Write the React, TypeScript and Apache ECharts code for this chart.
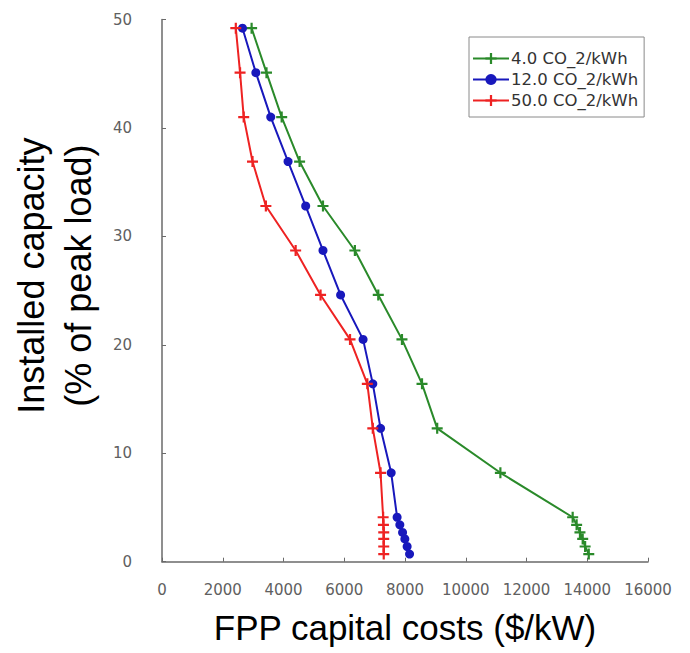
import React, { useEffect, useRef } from "react";
import * as echarts from "echarts";

const capacity = [49.2, 45.1, 41.0, 36.9, 32.8, 28.7, 24.6, 20.5, 16.4, 12.3, 8.2, 4.1, 3.4, 2.7, 2.1, 1.4, 0.7];
const cost4 = [2950, 3440, 3940, 4530, 5300, 6350, 7120, 7900, 8560, 9060, 11140, 13520, 13650, 13760, 13850, 13930, 14050];
const cost12 = [2650, 3090, 3580, 4150, 4730, 5300, 5880, 6620, 6940, 7195, 7545, 7740, 7830, 7920, 7995, 8070, 8150];
const cost50 = [2430, 2570, 2690, 2980, 3420, 4400, 5220, 6190, 6760, 6940, 7195, 7280, 7290, 7300, 7300, 7300, 7300];
const seriesNames = ["4.0 CO_2/kWh", "12.0 CO_2/kWh", "50.0 CO_2/kWh"];
const seriesColors = ["#2a8a2a", "#1818bc", "#ee2222"];
const xTitle = "FPP capital costs ($/kW)";
const yTitle = "Installed capacity\n(% of peak load)";

const PLUS = "path://M4,0H6V4H10V6H6V10H4V6H0V4H4Z";

function pairs(xs: number[]) {
  return xs.map((x, i) => [x, capacity[i]]);
}

export default function App() {
  const ref = useRef<HTMLDivElement>(null);
  useEffect(() => {
    if (!ref.current) return;
    const chart = echarts.init(ref.current, null, { renderer: "svg" });
    const axisColor = "#6a6a6a";
    const tickLabel = { color: "#606060", fontFamily: "DejaVu Sans", fontSize: 15 };
    chart.setOption({
      animation: false,
      backgroundColor: "#ffffff",
      grid: { left: 161, right: 42, top: 19.5, bottom: 91.3 },
      legend: {
        orient: "vertical",
        left: 469,
        top: 37,
        itemWidth: 36,
        itemHeight: 14,
        itemGap: 4,
        padding: [13, 6, 8, 3],
        backgroundColor: "#ffffff",
        borderColor: "#8a8a8a",
        borderWidth: 1,
        textStyle: { fontFamily: "DejaVu Sans", fontSize: 16.5, color: "#333", padding: [0, 0, 0, -3] },
        data: seriesNames,
      },
      xAxis: {
        type: "value",
        min: 0,
        max: 16000,
        interval: 2000,
        splitLine: { show: false },
        axisLine: { show: true, lineStyle: { color: axisColor, width: 1.5 } },
        axisTick: { show: true, inside: true, length: 4, lineStyle: { color: axisColor } },
        axisLabel: {
          ...tickLabel,
          margin: 21,
          showMinLabel: true,
          showMaxLabel: true,
          formatter: (v: number) => String(v),
        },
        name: xTitle,
        nameLocation: "middle",
        nameGap: 48,
        nameTextStyle: { fontFamily: "Liberation Sans", fontSize: 35, color: "#000" },
      },
      yAxis: {
        type: "value",
        min: 0,
        max: 50,
        interval: 10,
        splitLine: { show: false },
        axisLine: { show: true, lineStyle: { color: axisColor, width: 1.5 } },
        axisTick: { show: true, inside: true, length: 4, lineStyle: { color: axisColor } },
        axisLabel: { ...tickLabel, margin: 30, formatter: (v: number) => String(v) },
        name: yTitle,
        nameLocation: "middle",
        nameRotate: 90,
        nameGap: 60,
        nameTextStyle: {
          fontFamily: "Liberation Sans",
          fontSize: 36,
          lineHeight: 47,
          color: "#000",
          padding: [0, 0, 0, 30],
        },
      },
      series: [
        {
          name: seriesNames[0],
          type: "line",
          data: pairs(cost4),
          symbol: PLUS,
          symbolSize: 11,
          color: seriesColors[0],
          lineStyle: { width: 2, color: seriesColors[0] },
          itemStyle: { color: seriesColors[0] },
        },
        {
          name: seriesNames[1],
          type: "line",
          data: pairs(cost12),
          symbol: "circle",
          symbolSize: 9,
          color: seriesColors[1],
          lineStyle: { width: 2, color: seriesColors[1] },
          itemStyle: { color: seriesColors[1] },
        },
        {
          name: seriesNames[2],
          type: "line",
          data: pairs(cost50),
          symbol: PLUS,
          symbolSize: 11,
          color: seriesColors[2],
          lineStyle: { width: 2, color: seriesColors[2] },
          itemStyle: { color: seriesColors[2] },
        },
      ],
    });
    return () => chart.dispose();
  }, []);
  return (
    <div
      ref={ref}
      style={{ position: "fixed", left: 0, top: 0, width: 690, height: 653, background: "#fff" }}
    />
  );
}
